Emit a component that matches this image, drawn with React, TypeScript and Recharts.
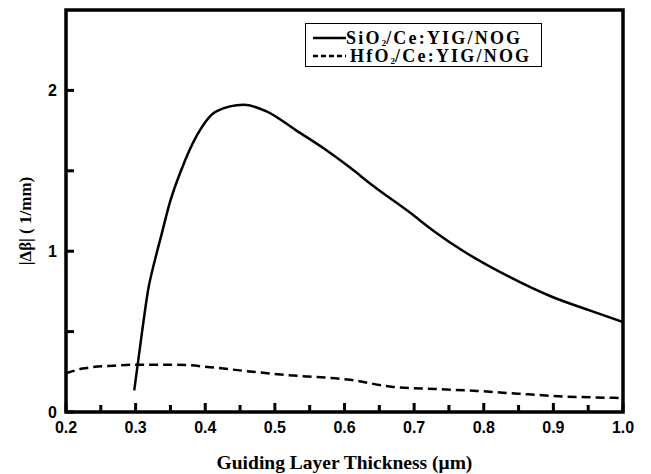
import { LineChart, Line, XAxis, YAxis, Label, ReferenceArea } from "recharts";

// SiO2/Ce:YIG/NOG (solid)
const siThickness = [0.298, 0.309, 0.318, 0.328, 0.337, 0.349, 0.366, 0.388, 0.416, 0.455, 0.488, 0.531, 0.57, 0.608, 0.64, 0.694, 0.73, 0.771, 0.837, 0.896, 0.95, 1.0];
const siDelta = [0.135, 0.49, 0.76, 0.95, 1.1, 1.3, 1.51, 1.72, 1.87, 1.91, 1.87, 1.75, 1.64, 1.52, 1.41, 1.24, 1.12, 1.0, 0.84, 0.72, 0.635, 0.56];

// HfO2/Ce:YIG/NOG (dashed)
const hfThickness = [0.2, 0.224, 0.268, 0.304, 0.359, 0.407, 0.464, 0.517, 0.608, 0.67, 0.73, 0.79, 0.849, 0.908, 1.0];
const hfDelta = [0.24, 0.27, 0.288, 0.294, 0.294, 0.279, 0.252, 0.23, 0.2, 0.156, 0.143, 0.131, 0.114, 0.098, 0.087];

const xTicks = [0.2, 0.25, 0.3, 0.35, 0.4, 0.45, 0.5, 0.55, 0.6, 0.65, 0.7, 0.75, 0.8, 0.85, 0.9, 0.95, 1.0];
const yTicks = [0, 0.5, 1, 1.5, 2];

const siData = siThickness.map((x, i) => ({ x, y: siDelta[i] }));
const hfData = hfThickness.map((x, i) => ({ x, y: hfDelta[i] }));

const SERIF = "'Liberation Serif', 'DejaVu Serif', serif";
const SANS = "'Liberation Sans', Arial, sans-serif";

// ticks point into the plot, labels only on the major ones
const XTick = (props: any) => {
  const { x, y, payload } = props;
  const major = Math.round(payload.value * 100) % 10 === 0;
  return (
    <g>
      <rect x={x - 1.5} y={y - (major ? 9 : 7)} width={3} height={major ? 9 : 7} fill="#000" />
      {major && (
        <text x={x} y={y + 21} textAnchor="middle" fontFamily={SANS} fontWeight="bold" fontSize={16} fill="#000">
          {payload.value.toFixed(1)}
        </text>
      )}
    </g>
  );
};

const YTick = (props: any) => {
  const { x, y, payload } = props;
  const major = Number.isInteger(payload.value);
  return (
    <g>
      <rect x={x} y={y - 1.5} width={8} height={3} fill="#000" />
      {major && (
        <text x={x - 9} y={y + 6} textAnchor="end" fontFamily={SANS} fontWeight="bold" fontSize={16} fill="#000">
          {payload.value}
        </text>
      )}
    </g>
  );
};

const legendItems = [
  { label: "SiO", rest: "/Ce:YIG/NOG", dash: undefined },
  { label: "HfO", rest: "/Ce:YIG/NOG", dash: "5 3" },
];

const ChartLegend = () => (
  <div
    style={{
      position: "absolute",
      left: 305,
      top: 23,
      border: "1px solid #000",
      width: 237,
      height: 44,
      boxSizing: "border-box",
      paddingLeft: 7,
      paddingTop: 4,
      background: "#fff",
    }}
  >
    {legendItems.map((item) => (
      <div key={item.label} style={{ display: "flex", alignItems: "center", height: 18 }}>
        <svg width={33} height={10} style={{ marginTop: 2 }}>
          <line x1={0} y1={5} x2={33} y2={5} stroke="#000" strokeWidth={2.5} strokeDasharray={item.dash} />
        </svg>
        <span
          style={{
            fontFamily: SERIF,
            fontWeight: "bold",
            fontSize: 18,
            letterSpacing: 2.2,
            marginLeft: item.dash ? 4 : 0,
            lineHeight: "18px",
            whiteSpace: "nowrap",
            position: "relative",
            top: 1,
          }}
        >
          {item.label}
          <span style={{ fontSize: 9, position: "relative", top: 2, letterSpacing: 0, lineHeight: "9px" }}>2</span>
          {item.rest}
        </span>
      </div>
    ))}
  </div>
);

export default function App() {
  return (
    <div style={{ position: "absolute", left: 0, top: 0, width: 651, height: 474, background: "#fff" }}>
      <LineChart width={651} height={474} margin={{ top: 10, right: 28, bottom: 32, left: 26 }}>
        <XAxis
          type="number"
          dataKey="x"
          domain={[0.2, 1.0]}
          ticks={xTicks}
          interval={0}
          height={30}
          tickSize={0}
          tickMargin={0}
          tickLine={false}
          tick={<XTick />}
          axisLine={false}
          allowDataOverflow
        >
          <Label
            content={(p: any) => {
              const vb = p.viewBox || { x: 66, y: 412, width: 557 };
              return (
                <text
                  x={vb.x + vb.width / 2}
                  y={vb.y + 57}
                  textAnchor="middle"
                  fontFamily={SERIF}
                  fontWeight="bold"
                  fontSize={19.5}
                  fill="#000"
                >
                  Guiding Layer Thickness (μm)
                </text>
              );
            }}
          />
        </XAxis>
        <YAxis
          type="number"
          domain={[0, 2.5]}
          ticks={yTicks}
          interval={0}
          width={40}
          tickSize={0}
          tickMargin={0}
          tickLine={false}
          tick={<YTick />}
          axisLine={false}
          allowDataOverflow
        >
          <Label
            content={(p: any) => {
              const vb = p.viewBox || { x: 26, y: 10, width: 40, height: 402 };
              const cx = vb.x - 1;
              const cy = vb.y + vb.height / 2 + 10;
              return (
                <text
                  x={cx}
                  y={cy}
                  transform={`rotate(-90 ${cx} ${cy})`}
                  textAnchor="middle"
                  dominantBaseline="central"
                  fontFamily={SERIF}
                  fontWeight="bold"
                  fontSize={17}
                  fill="#000"
                >
                  |Δβ| ( 1/mm)
                </text>
              );
            }}
          />
        </YAxis>
        {/* plot frame */}
        <ReferenceArea x1={0.2} x2={1.0} y1={0} y2={2.5} fill="none" stroke="#000" strokeWidth={3.5} ifOverflow="visible" />
        <Line
          data={siData}
          dataKey="y"
          name="SiO2/Ce:YIG/NOG"
          type="monotone"
          stroke="#000"
          strokeWidth={2.5}
          dot={false}
          isAnimationActive={false}
        />
        <Line
          data={hfData}
          dataKey="y"
          name="HfO2/Ce:YIG/NOG"
          type="monotone"
          stroke="#000"
          strokeWidth={2.5}
          strokeDasharray="9 5"
          dot={false}
          isAnimationActive={false}
        />
      </LineChart>
      <ChartLegend />
    </div>
  );
}
